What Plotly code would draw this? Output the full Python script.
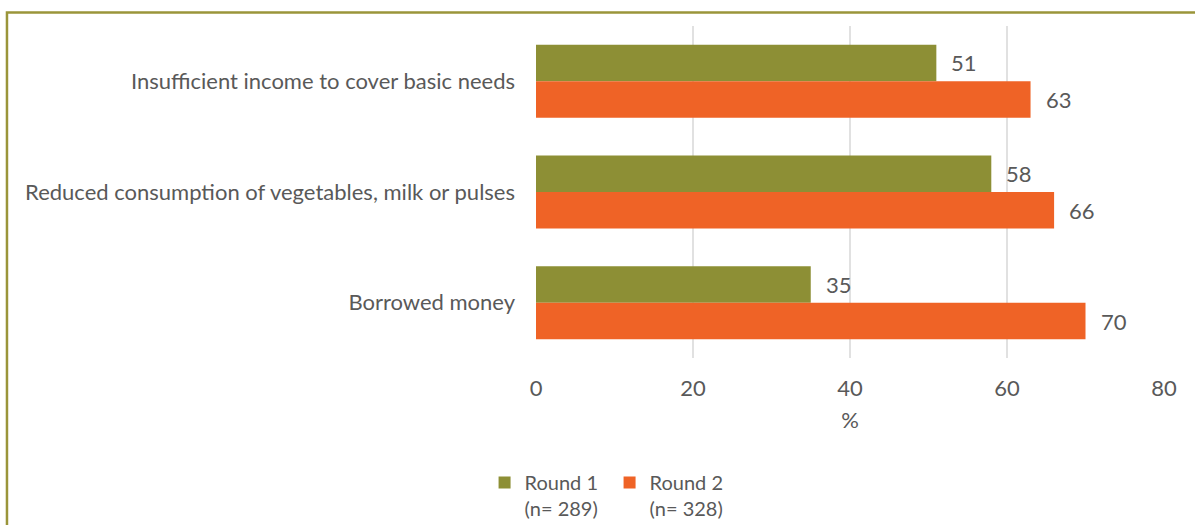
import plotly.graph_objects as go

# Coping indicators, share of households (%)
categories = [
    "Insufficient income to cover basic needs",
    "Reduced consumption of vegetables, milk or pulses",
    "Borrowed money",
]
round1 = [51, 58, 35]
round2 = [63, 66, 70]
series_names = ["Round 1<br>(n= 289)", "Round 2<br>(n= 328)"]
x_ticks = [0, 20, 40, 60, 80]

GREEN = "#8d8f35"
ORANGE = "#ef6326"
TEXT = "#595959"
FONT = "Lato"
SIZE = 22

fig = go.Figure()
fig.add_trace(go.Bar(y=categories, x=round1, orientation="h", name=series_names[0],
                     marker=dict(color=GREEN, line=dict(width=0))))
fig.add_trace(go.Bar(y=categories, x=round2, orientation="h", name=series_names[1],
                     marker=dict(color=ORANGE, line=dict(width=0))))

# value labels to the right of each bar
annotations = []
for vals, shift in ((round1, 18.5), (round2, -18.5)):
    for cat, v in zip(categories, vals):
        annotations.append(dict(x=v, y=cat, xref="x", yref="y", text=str(v),
                                showarrow=False, xanchor="left", yanchor="middle",
                                xshift=13, yshift=shift,
                                font=dict(family=FONT, size=SIZE, color=TEXT)))

fig.update_layout(
    width=1195, height=525,
    margin=dict(l=536, r=31, t=25.5, b=166.5),
    paper_bgcolor="white", plot_bgcolor="white",
    barmode="group", bargap=0.34, bargroupgap=0,
    font=dict(family=FONT, size=SIZE, color=TEXT),
    xaxis=dict(range=[0, 80], tickvals=x_ticks, showgrid=True, gridcolor="#e1e1e1",
               gridwidth=1.5, zeroline=False, showline=False,
               ticks="", ticklabelstandoff=15,
               title=dict(text="%", standoff=12, font=dict(family=FONT, size=SIZE, color=TEXT)),
               tickfont=dict(family=FONT, size=SIZE, color=TEXT)),
    yaxis=dict(autorange="reversed", showgrid=False, zeroline=False, showline=False,
               ticks="", ticklabelstandoff=20,
               tickfont=dict(family=FONT, size=SIZE, color=TEXT)),
    legend=dict(orientation="h", xref="container", yref="container",
                x=0.4055, xanchor="left", y=0.118, yanchor="top",
                font=dict(family=FONT, size=20, color=TEXT), itemwidth=30,
                valign="top", entrywidth=80, traceorder="normal"),
    annotations=annotations,
    shapes=[dict(type="rect", xref="paper", yref="paper",
                 x0=-0.8424, x1=1.2, y0=-0.7, y1=1.0405,
                 line=dict(color="#9a953a", width=2.5), fillcolor="rgba(0,0,0,0)",
                 layer="above")],
)

fig.write_html("out.html")
